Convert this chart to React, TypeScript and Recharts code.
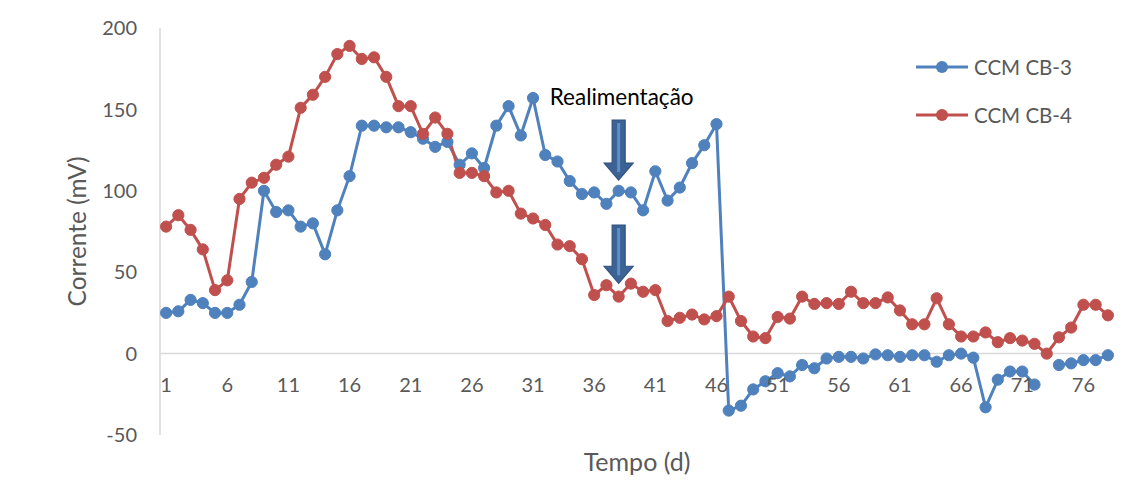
import React from 'react';
import { LineChart, Line, XAxis, YAxis, ReferenceLine, ReferenceDot, Legend, Label } from 'recharts';

const days = [1, 2, 3, 4, 5, 6, 7, 8, 9, 10, 11, 12, 13, 14, 15, 16, 17, 18, 19, 20,
  21, 22, 23, 24, 25, 26, 27, 28, 29, 30, 31, 32, 33, 34, 35, 36, 37, 38, 39, 40,
  41, 42, 43, 44, 45, 46, 47, 48, 49, 50, 51, 52, 53, 54, 55, 56, 57, 58, 59, 60,
  61, 62, 63, 64, 65, 66, 67, 68, 69, 70, 71, 72, 73, 74, 75, 76, 77, 78];

const ccmCB3: (number | null)[] = [25, 26, 33, 31, 25, 25, 30, 44, 100, 87, 88, 78, 80, 61, 88, 109, 140, 140, 139, 139,
  136, 132, 127, 130, 116, 123, 114, 140, 152, 134, 157, 122, 118, 106, 98, 99, 92, 100, 99, 88,
  112, 94, 102, 117, 128, 141, -35, -32, -22, -17, -12, -14, -7, -9, -3, -2, -2, -3, -0.5, -1,
  -2, -1, -1, -5, -1, 0, -2.5, -33, -16, -11, -11, -19, null, -7, -6, -4, -4, -1];

const ccmCB4: (number | null)[] = [78, 85, 76, 64, 39, 45, 95, 105, 108, 116, 121, 151, 159, 170, 184, 189, 181, 182, 170, 152,
  152, 135, 145, 135, 111, 111, 109, 99, 100, 86, 83, 79, 67, 66, 58, 36, 42, 35, 43, 38,
  39, 20, 22, 24, 21, 23, 35, 20, 10.5, 9.5, 22.5, 21.5, 35, 30.5, 31, 30.5, 38, 31, 31, 34.5,
  26.5, 18, 18, 34, 18, 10.5, 10.5, 13, 7, 9.5, 8, 6, 0, 10, 16, 30, 30, 23.5];

const seriesNames = ['CCM CB-3', 'CCM CB-4'];
const seriesColors = ['#4F81BD', '#C0504D'];
const yTicks = [-50, 0, 50, 100, 150, 200];
const yDomain = [-50, 200];
const annotationText = 'Realimentação';
const annotationDay = 38;
const annotationValue = 157.8;
const arrowTops = [143.5, 79];
const arrowTips = [106.6, 43.2];
const titleFragment = 'p';
const xTitle = 'Tempo (d)';
const yTitle = 'Corrente (mV)';

const data = days.map((d, i) => ({ day: d, cb3: ccmCB3[i], cb4: ccmCB4[i] }));

const W = 1134;
const H = 485;
const X_AXIS_H = 30;
const margin = { top: 28, right: 20, bottom: 20, left: 100 };
const PLOT_H = H - margin.top - margin.bottom - X_AXIS_H;
const zeroFrac = (0 - yDomain[0]) / (yDomain[1] - yDomain[0]);
const zeroY = margin.top + PLOT_H * (1 - zeroFrac);
const plotBottom = margin.top + PLOT_H;

const FONT = 'Lato, "Open Sans", sans-serif';
const GRAY = '#595959';
const BORDER = '#d4d4d4';

const XTick = (props: any) => {
  const { x, payload } = props;
  return (
    <text x={x} y={zeroY + 38.5} textAnchor="middle" fill={GRAY} fontSize={20} fontFamily={FONT}>
      {payload.value}
    </text>
  );
};

const ArrowShape = (props: any) => {
  const { x1, y1, y2 } = props;
  const x = x1;
  const sw = 6.5;
  const hw = 14.5;
  const hl = 17;
  const d = `M${x - sw},${y1} L${x + sw},${y1} L${x + sw},${y2 - hl} L${x + hw},${y2 - hl} L${x},${y2} L${x - hw},${y2 - hl} L${x - sw},${y2 - hl} Z`;
  return (
    <g>
      <path d={d} fill="#3C6393" stroke="#2F5283" strokeWidth={1.2} />
      <line x1={x} y1={y1 + 3} x2={x} y2={y2 - 8} stroke="#5F8FCB" strokeWidth={3} />
    </g>
  );
};

const renderYTitle = (props: any) => {
  const vb = props.viewBox || { y: margin.top, height: PLOT_H };
  const cy = vb.y + vb.height / 2;
  return (
    <g>
      <text transform={`translate(85.5, ${cy}) rotate(-90)`} textAnchor="middle" fill={GRAY} fontSize={24.5} fontFamily={FONT}>
        {yTitle}
      </text>
      <line x1={7} y1={5.5} x2={W} y2={5.5} stroke={BORDER} strokeWidth={2} />
      <line x1={7} y1={5.5} x2={7} y2={H} stroke={BORDER} strokeWidth={2} />
      <text x={603} y={0} fontFamily='"Liberation Serif", serif' fontSize={21} fill="#000">{titleFragment}</text>
    </g>
  );
};

const renderXTitle = (props: any) => {
  const vb = props.viewBox || { x: margin.left + 60, width: 954 };
  return (
    <text x={vb.x + vb.width / 2} y={plotBottom + 35.5} textAnchor="middle" fill={GRAY} fontSize={25} fontFamily={FONT}>
      {xTitle}
    </text>
  );
};

const LegendContent = (props: any) => {
  const payload = props.payload || [];
  return (
    <div style={{ fontFamily: FONT }}>
      {payload.map((entry: any, i: number) => (
        <div key={i} style={{ display: 'flex', alignItems: 'center', height: 24, marginBottom: 24 }}>
          <svg width={54} height={24} style={{ display: 'block' }}>
            <line x1={1} y1={12} x2={53} y2={12} stroke={entry.color} strokeWidth={3} />
            <circle cx={27} cy={12} r={6} fill={entry.color} />
          </svg>
          <span style={{ marginLeft: 5, fontSize: 20.5, color: GRAY, whiteSpace: 'nowrap' }}>{entry.value}</span>
        </div>
      ))}
    </div>
  );
};

export default function App() {
  return (
    <div style={{ position: 'relative', width: W, height: H, margin: -8, overflow: 'hidden', background: '#fff' }}>
      <LineChart width={W} height={H} data={data} margin={margin} style={{ overflow: 'visible' }}>
        <XAxis dataKey="day" scale="band" interval={4} axisLine={false} tickLine={false} height={X_AXIS_H} tick={<XTick />}>
          <Label content={renderXTitle} />
        </XAxis>
        <YAxis
          domain={yDomain}
          ticks={yTicks}
          width={60}
          tickLine={false}
          tickSize={6}
          tickMargin={17}
          axisLine={{ stroke: '#d9d9d9', strokeWidth: 1.5 }}
          tick={{ fill: GRAY, fontSize: 20, fontFamily: FONT }}
        >
          <Label content={renderYTitle} />
        </YAxis>
        <ReferenceLine y={0} stroke="#d9d9d9" strokeWidth={1.5} />
        <Legend
          layout="horizontal"
          verticalAlign="middle"
          align="center"
          content={<LegendContent />}
          wrapperStyle={{ position: 'absolute', left: 915, top: 55, width: 200 }}
        />
        <Line
          name={seriesNames[0]}
          dataKey="cb3"
          stroke={seriesColors[0]}
          strokeWidth={3}
          dot={{ r: 5.6, fill: seriesColors[0], stroke: seriesColors[0], strokeWidth: 1 }}
          activeDot={false}
          isAnimationActive={false}
        />
        <Line
          name={seriesNames[1]}
          dataKey="cb4"
          stroke={seriesColors[1]}
          strokeWidth={3}
          dot={{ r: 5.6, fill: seriesColors[1], stroke: seriesColors[1], strokeWidth: 1 }}
          activeDot={false}
          isAnimationActive={false}
        />
        {arrowTops.map((top, i) => (
          <ReferenceLine
            key={i}
            segment={[{ x: annotationDay, y: top }, { x: annotationDay, y: arrowTips[i] }]}
            shape={ArrowShape}
          />
        ))}
        <ReferenceDot
          x={annotationDay}
          y={annotationValue}
          r={1}
          fill="none"
          stroke="none"
          label={{ value: annotationText, position: 'center', fill: '#000', fontSize: 22.5, fontFamily: FONT, dx: 3 }}
        />
      </LineChart>
    </div>
  );
}
